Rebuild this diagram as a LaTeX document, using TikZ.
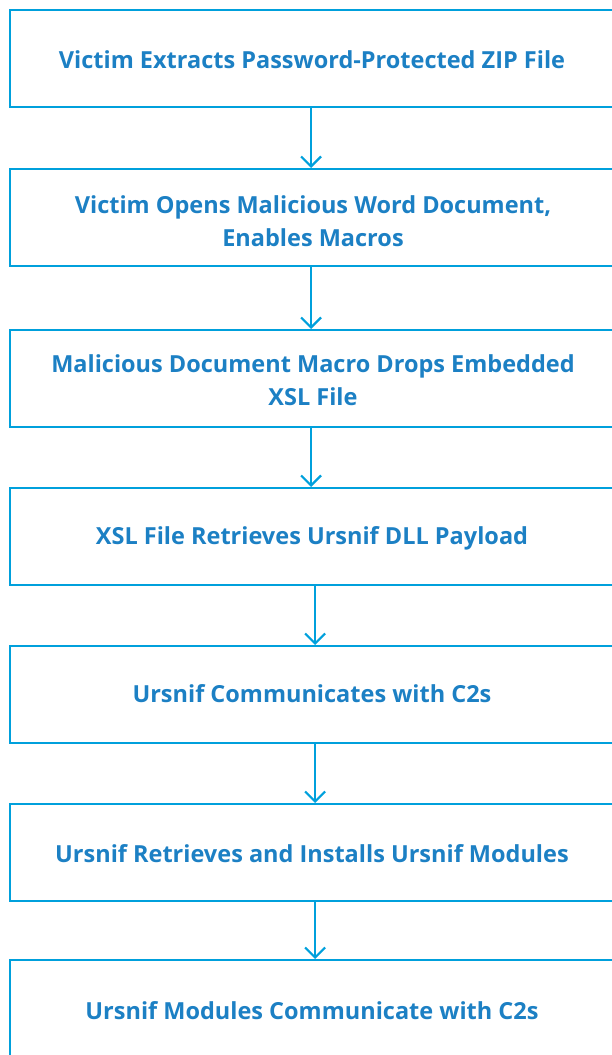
\documentclass[tikz,border=0pt]{standalone}
\usepackage{fontspec}
\setmainfont{Open Sans}
\usepackage{tikz}
\usetikzlibrary{arrows.meta}
\usepackage{xcolor}

\definecolor{lineblue}{HTML}{00A0DC}
\definecolor{textblue}{HTML}{1C80C4}

\tikzset{
  stepbox/.style={draw=lineblue, line width=2.2pt, anchor=north west,
    minimum width=608pt, minimum height=97pt, inner sep=0pt},
  steptext/.style={text=textblue, font=\fontsize{23.5}{33.3}\selectfont\bfseries, align=center},
  flow/.style={draw=lineblue, line width=2.2pt, -{Straight Barb[length=10pt,width=20pt,line width=2.2pt]}}
}

\begin{document}
\begin{tikzpicture}[x=1pt, y=-1pt]
    \useasboundingbox (0,0) rectangle (611,1055);
    % boxes
    \node[stepbox] (b1) at (8.5,9) {};
    \node[stepbox] (b2) at (8.5,168) {};
    \node[stepbox] (b3) at (8.5,329) {};
    \node[stepbox] (b4) at (8.5,487) {};
    \node[stepbox] (b5) at (8.5,645) {};
    \node[stepbox] (b6) at (8.5,803) {};
    \node[stepbox] (b7) at (8.5,959) {};
    % labels
    \node[steptext] (t1) at (312,60) {Victim Extracts Password-Protected ZIP File};
    \node[steptext] (t2) at (313,221) {Victim Opens Malicious Word Document,\\Enables Macros};
    \node[steptext] (t3) at (313,380) {Malicious Document Macro Drops Embedded\\XSL File};
    \node[steptext] (t4) at (312,538) {XSL File Retrieves Ursnif DLL Payload};
    \node[steptext] (t5) at (312,694) {Ursnif Communicates with C2s};
    \node[steptext] (t6) at (312,854) {Ursnif Retrieves and Installs Ursnif Modules};
    \node[steptext] (t7) at (312,1011) {Ursnif Modules Communicate with C2s};
    % arrows
    \draw[flow] ([xshift=-2.5pt]b1.south) -- ([xshift=-2.5pt]b2.north);
    \draw[flow] ([xshift=-2.5pt]b2.south) -- ([xshift=-2.5pt]b3.north);
    \draw[flow] ([xshift=-2.5pt]b3.south) -- ([xshift=-2.5pt]b4.north);
    \draw[flow] ([xshift=1.5pt]b4.south) -- ([xshift=1.5pt]b5.north);
    \draw[flow] ([xshift=1.5pt]b5.south) -- ([xshift=1.5pt]b6.north);
    \draw[flow] ([xshift=1.5pt]b6.south) -- ([xshift=1.5pt]b7.north);
\end{tikzpicture}
\end{document}
